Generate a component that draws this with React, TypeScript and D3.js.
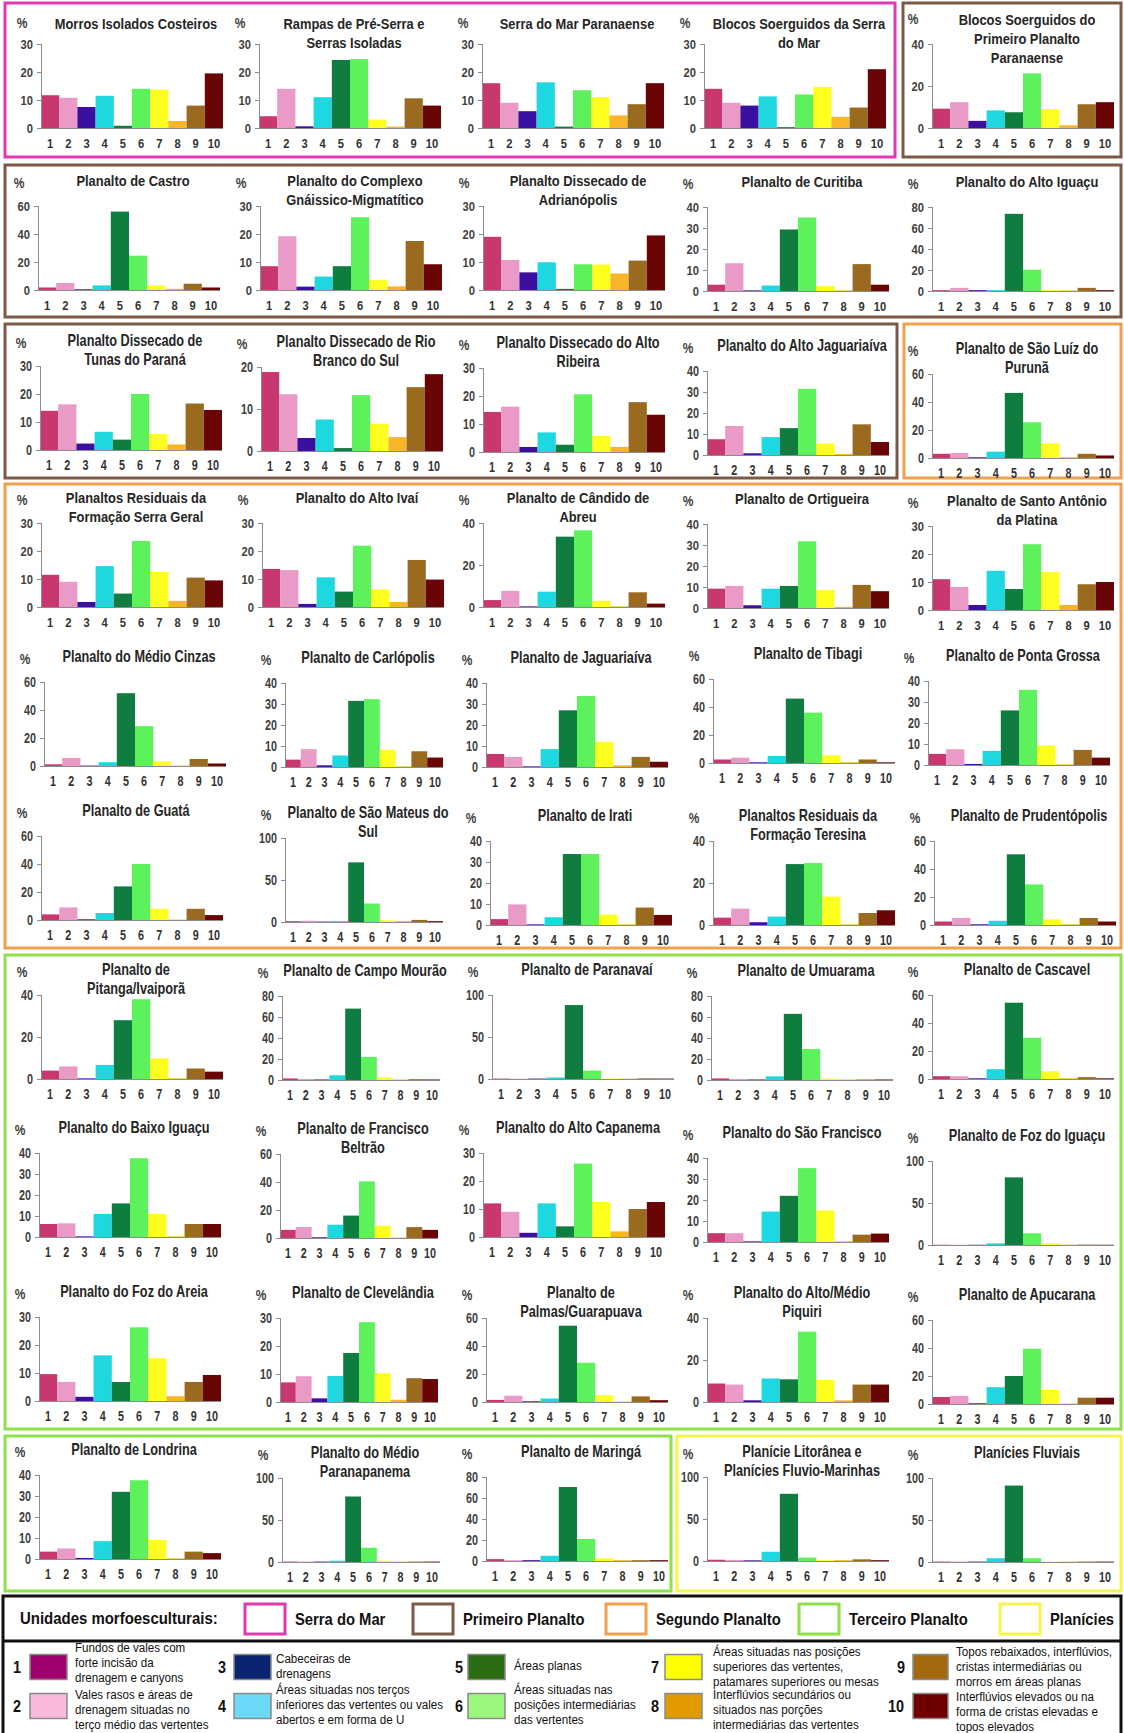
import * as d3 from 'd3';
import type { ReactNode } from 'react';

const categories = ['1', '2', '3', '4', '5', '6', '7', '8', '9', '10'];
const barColors = ['#c9376f', '#e99ac6', '#3b0fa0', '#1ed7df', '#0f7d40', '#5df25c', '#ffff1f', '#f7b52a', '#9a6a1f', '#6a0505'];

const titles: string[][] = [
  ['Morros Isolados Costeiros'], ['Rampas de Pré-Serra e', 'Serras Isoladas'], ['Serra do Mar Paranaense'],
  ['Blocos Soerguidos da Serra', 'do Mar'], ['Blocos Soerguidos do', 'Primeiro Planalto', 'Paranaense'],
  ['Planalto de Castro'], ['Planalto do Complexo', 'Gnáissico-Migmatítico'], ['Planalto Dissecado de', 'Adrianópolis'],
  ['Planalto de Curitiba'], ['Planalto do Alto Iguaçu'],
  ['Planalto Dissecado de', 'Tunas do Paraná'], ['Planalto Dissecado de Rio', 'Branco do Sul'],
  ['Planalto Dissecado do Alto', 'Ribeira'], ['Planalto do Alto Jaguariaíva'], ['Planalto de São Luíz do', 'Purunã'],
  ['Planaltos Residuais da', 'Formação Serra Geral'], ['Planalto do Alto Ivaí'], ['Planalto de Cândido de', 'Abreu'],
  ['Planalto de Ortigueira'], ['Planalto de Santo Antônio', 'da Platina'],
  ['Planalto do Médio Cinzas'], ['Planalto de Carlópolis'], ['Planalto de Jaguariaíva'], ['Planalto de Tibagi'],
  ['Planalto de Ponta Grossa'],
  ['Planalto de Guatá'], ['Planalto de São Mateus do', 'Sul'], ['Planalto de Irati'],
  ['Planaltos Residuais da', 'Formação Teresina'], ['Planalto de Prudentópolis'],
  ['Planalto de', 'Pitanga/Ivaiporã'], ['Planalto de Campo Mourão'], ['Planalto de Paranavaí'],
  ['Planalto de Umuarama'], ['Planalto de Cascavel'],
  ['Planalto do Baixo Iguaçu'], ['Planalto de Francisco', 'Beltrão'], ['Planalto do Alto Capanema'],
  ['Planalto do São Francisco'], ['Planalto de Foz do Iguaçu'],
  ['Planalto do Foz do Areia'], ['Planalto de Clevelândia'], ['Planalto de', 'Palmas/Guarapuava'],
  ['Planalto do Alto/Médio', 'Piquiri'], ['Planalto de Apucarana'],
  ['Planalto de Londrina'], ['Planalto do Médio', 'Paranapanema'], ['Planalto de Maringá'],
  ['Planície Litorânea e', 'Planícies Fluvio-Marinhas'], ['Planícies Fluviais'],
];

const values: number[][] = [
  [11.7, 10.8, 7.5, 11.5, 0.8, 14, 13.7, 2.5, 8, 19.5],
  [4.2, 14, 0.6, 11, 24.3, 24.6, 3, 0.5, 10.6, 8],
  [16, 9, 6, 16.3, 0.5, 13.5, 11, 4.5, 8.5, 16],
  [14, 9, 8, 11.3, 0.3, 12, 14.7, 4, 7.3, 21],
  [9.2, 12.3, 3.4, 8.4, 7.5, 26, 9, 1.3, 11.3, 12.3],
  [1.8, 5, 0.5, 3.3, 56, 24.5, 3.3, 0.8, 4.5, 1.8],
  [8.5, 19.2, 1.2, 4.8, 8.5, 26, 3.6, 1.3, 17.5, 9.2],
  [19, 10.7, 6.3, 9.9, 0.4, 9.2, 9.1, 5.9, 10.5, 19.5],
  [3, 13.2, 0.3, 2.6, 29.3, 35, 2.3, 0.3, 12.8, 3],
  [0.8, 3, 0.8, 0.8, 73.5, 20.3, 0.8, 0.5, 3, 0.8],
  [14, 16.3, 2.3, 6.5, 3.7, 20, 5.7, 2, 16.6, 14.3],
  [18.8, 13.5, 3.1, 7.5, 0.7, 13.3, 6.5, 3.3, 15.2, 18.3],
  [14.3, 16.2, 1.8, 7, 2.6, 20.6, 5.8, 1.8, 17.8, 13.3],
  [7.5, 13.8, 0.8, 8.5, 12.8, 31.5, 5.5, 0.5, 14.6, 6.2],
  [3, 3.6, 0.5, 4.5, 46.5, 25.5, 10.5, 0.5, 3, 1.8],
  [11.5, 9, 1.8, 14.6, 4.8, 23.6, 12.5, 2.2, 10.5, 9.5],
  [13.6, 13.2, 1.1, 10.6, 5.5, 21.9, 6.3, 1.8, 16.8, 9.8],
  [3.3, 7.7, 0.3, 7.3, 33.5, 36.5, 3, 0.3, 7, 1.6],
  [9.2, 10.5, 1.3, 9.2, 10.5, 31.8, 8.5, 0.5, 11, 8],
  [11, 8.2, 1.8, 14, 7.5, 23.5, 13.5, 1.8, 9.2, 10],
  [1.2, 5.8, 0.3, 2.7, 52, 28.5, 3.3, 0.3, 5, 1.8],
  [3.5, 8.5, 0.8, 5.5, 31.5, 32.3, 8.2, 0.3, 7.5, 4.5],
  [6.2, 4.8, 0.3, 8.5, 27, 33.8, 12, 0.8, 4.8, 2.5],
  [2.5, 3.8, 0.5, 5, 46, 36, 5.5, 0.5, 2.5, 0.5],
  [5.3, 7.5, 0.5, 6.7, 26, 35.8, 9.3, 0.3, 7.2, 3.5],
  [4, 9, 0.5, 5, 24, 40, 8, 0.3, 8, 3.5],
  [1, 1.5, 0.5, 1, 71, 22, 2, 1, 2.5, 1],
  [2.8, 9.8, 0.3, 3.7, 33.8, 33.8, 5, 0.3, 8.3, 4.8],
  [3.5, 7.8, 1.3, 4, 29, 29.5, 13.5, 0.3, 5.7, 7],
  [2.5, 5, 0.5, 3, 50.5, 29, 4, 0.5, 5, 2.5],
  [4, 6, 0.3, 6.7, 28, 38, 9.8, 0.3, 5, 3.5],
  [1.5, 1, 0.5, 4.5, 68, 22, 2.5, 0.5, 0.8, 0.5],
  [0.5, 0.3, 0.5, 1.8, 88, 10, 0.5, 0.5, 0.8, 0.5],
  [1.5, 1, 0.5, 3.5, 63, 29.5, 1.2, 0.5, 0.5, 0.5],
  [2, 2, 0.5, 7, 54.5, 29.5, 5.5, 0.5, 1.3, 0.5],
  [6.2, 6.5, 0.3, 11, 16, 37.5, 11, 0.3, 6.2, 6.2],
  [5.8, 7.8, 0.5, 9.5, 16, 40.5, 8.8, 0.3, 7.8, 5.8],
  [12, 9, 1.5, 12, 3.8, 26.2, 12.5, 2, 10, 12.5],
  [4.2, 4.2, 0.3, 14.5, 22, 35.2, 15, 0.3, 3.5, 4],
  [0.3, 0.3, 0.3, 2, 80.5, 14, 2, 0.5, 0.5, 0.3],
  [9.6, 6.8, 1.5, 16.3, 6.8, 26.3, 15.3, 1.7, 6.8, 9.3],
  [7, 9.2, 1.3, 9.3, 17.5, 28.5, 10.3, 0.8, 8.5, 8.2],
  [1.5, 4.5, 0.5, 2.5, 54.5, 28, 4.8, 0.3, 4, 1.3],
  [8.8, 8.3, 0.8, 11.2, 10.8, 33.5, 10.5, 0.8, 8.3, 8.3],
  [5, 5.8, 0.5, 12, 20, 39.5, 10, 0.3, 4.5, 4.5],
  [3.5, 5, 0.5, 8.5, 32, 37.5, 9, 0.3, 3.5, 2.8],
  [0.5, 0.5, 0.5, 1.5, 78, 17, 1.5, 0.5, 0.5, 0.5],
  [1.8, 0.8, 0.8, 5, 70.5, 21, 2.5, 0.8, 0.8, 0.8],
  [1.5, 1.3, 0.8, 11, 80, 4, 1, 1, 2, 1],
  [0.5, 0.5, 0.5, 4.5, 91, 4.5, 0.5, 0.5, 0.5, 0.5],
];

const yMax = [
  30, 30, 30, 30, 40, 60, 30, 30, 40, 80,
  30, 20, 30, 40, 60, 30, 30, 40, 40, 30,
  60, 40, 40, 60, 40, 60, 100, 40, 40, 60,
  40, 80, 100, 80, 60, 40, 60, 30, 40, 100,
  30, 30, 60, 40, 60, 40, 100, 80, 100, 100,
];
const yStep = [
  10, 10, 10, 10, 20, 20, 10, 10, 10, 20,
  10, 10, 10, 10, 20, 10, 10, 20, 10, 10,
  20, 10, 10, 20, 10, 20, 50, 10, 20, 20,
  20, 20, 50, 20, 20, 10, 20, 10, 10, 50,
  10, 10, 20, 20, 20, 10, 50, 20, 50, 50,
];

const unitNames = ['Serra do Mar', 'Primeiro Planalto', 'Segundo Planalto', 'Terceiro Planalto', 'Planícies'];
const unitColors = ['#dd3bb0', '#7b5b47', '#f0a04e', '#8fe04a', '#f6f54a'];

const legendColors = ['#a0006e', '#f9b9dc', '#0b2470', '#6cd9f7', '#2a6d12', '#9cf77e', '#ffff00', '#e19a00', '#a4690f', '#6e0000'];
const legendTexts: string[][] = [
  ['Fundos de vales com', 'forte incisão da', 'drenagem e canyons'],
  ['Vales rasos e áreas de', 'drenagem situadas no', 'terço médio das vertentes'],
  ['Cabeceiras de', 'drenagens'],
  ['Áreas situadas nos terços', 'inferiores das vertentes ou vales', 'abertos e em forma de U'],
  ['Áreas planas'],
  ['Áreas situadas nas', 'posições intermediárias', 'das vertentes'],
  ['Áreas situadas nas posições', 'superiores das vertentes,', 'patamares superiores ou mesas'],
  ['Interflúvios secundários ou', 'situados nas porções', 'intermediárias das vertentes'],
  ['Topos rebaixados, interflúvios,', 'cristas intermediárias ou', 'morros em áreas planas'],
  ['Interflúvios elevados ou na', 'forma de cristas elevadas e', 'topos elevados'],
];

// layout
const rowTop = [44, 206, 366, 523, 682, 838, 995, 1153, 1317, 1477];
const rowNudge = [
  [0, 0, 0, 0, 0], [0, 0, 0, 1, 1], [0, 1, 2, 5, 8], [0, 0, 0, 1, 3], [0, 1, 1, -3, -1],
  [-2, 0, 3, 3, 3], [0, 1, 0, 1, 0], [0, 1, 0, 5, 8], [0, 1, 1, 1, 3], [-2, 1, 0, 0, 1],
];
const colX = [
  [41, 259, 482, 704, 932], [38, 260, 483, 707, 932], [40, 261, 483, 707, 932],
  [41, 262, 483, 707, 932], [44, 285, 486, 713, 928], [41, 285, 490, 713, 934],
  [41, 282, 492, 711, 932], [39, 280, 483, 707, 932], [39, 280, 486, 707, 932],
  [39, 282, 486, 707, 932],
];
const plotH = 84;
const boxes = [
  { x: 5, y: 3, w: 890, h: 154, u: 0 },
  { x: 903, y: 3, w: 218, h: 154, u: 1 },
  { x: 5, y: 165, w: 1116, h: 152, u: 1 },
  { x: 5, y: 324, w: 892, h: 154, u: 1 },
  { x: 904, y: 324, w: 217, h: 154, u: 2 },
  { x: 5, y: 484, w: 1116, h: 464, u: 2 },
  { x: 5, y: 955, w: 1116, h: 474, u: 3 },
  { x: 5, y: 1436, w: 666, h: 155, u: 3 },
  { x: 677, y: 1436, w: 444, h: 155, u: 4 },
];

const SANS = "'Liberation Sans', Arial, sans-serif";

// text squeezed horizontally (Calibri / Arial Narrow look)
const T = ({ x, y, sx, size, anchor = 'start', bold = false, fill = '#222', children }: {
  x: number; y: number; sx: number; size: number; anchor?: string; bold?: boolean; fill?: string; children: ReactNode;
}) => (
  <text transform={`translate(${x},${y}) scale(${sx},1)`} textAnchor={anchor} fontSize={size}
    fontWeight={bold ? 'bold' : 'normal'} fontFamily={SANS} fill={fill}>{children}</text>
);

const Panel = ({ i }: { i: number }) => {
  const r = Math.floor(i / 5);
  const c = i % 5;
  const x0 = colX[r][c];
  const w = r >= 4 && c === 1 ? 158 : 182;
  const top = rowTop[r] + rowNudge[r][c];
  const narrow = r === 2 || r >= 4;
  const sx = narrow ? 0.77 : 0.86;
  const titleSize = narrow ? 16.5 : 15;
  const tickSize = narrow ? 14 : 13;

  const x = d3.scaleBand<string>().domain(categories).range([x0, x0 + w]).padding(0);
  const y = d3.scaleLinear().domain([0, yMax[i]]).range([top + plotH, top]);
  const ticks = d3.range(0, yMax[i] + yStep[i] / 2, yStep[i]);
  const lines = titles[i];
  const first = lines.length === 3 ? top - 19 : r === 0 ? top - 15 : top - 20;
  const gap = lines.length === 3 ? 19 : 18.5;
  const cx = x0 + w / 2 + 4;

  return (
    <g>
      <T x={x0 - 19} y={r === 0 ? first - 1 : first + 2} sx={sx} anchor="middle" size={titleSize - 1} bold fill="#404040">%</T>
      {lines.map((t, k) => (
        <T key={k} x={cx} y={first + k * gap} sx={sx} anchor="middle" size={titleSize} bold fill="#262626">{t}</T>
      ))}
      {categories.map((cat, k) => (
        <rect key={cat} x={x(cat)} y={y(values[i][k])} width={x.bandwidth()} height={y(0) - y(values[i][k])} fill={barColors[k]} />
      ))}
      <line x1={x0} x2={x0 + w} y1={y(0) + 0.5} y2={y(0) + 0.5} stroke="#8c8c8c" strokeWidth={1} />
      <line x1={x0 + 0.5} x2={x0 + 0.5} y1={top} y2={y(0)} stroke="#8c8c8c" strokeWidth={1} />
      {ticks.map((t) => (
        <g key={t}>
          <line x1={x0 - 4} x2={x0} y1={y(t) + 0.5} y2={y(t) + 0.5} stroke="#8c8c8c" />
          <T x={x0 - 8} y={y(t) + 4.5} sx={sx} anchor="end" size={tickSize} bold fill="#404040">{t}</T>
        </g>
      ))}
      {categories.map((cat) => (
        <T key={cat} x={(x(cat) as number) + x.bandwidth() / 2} y={y(0) + 20} sx={sx} anchor="middle" size={tickSize} bold fill="#333">{cat}</T>
      ))}
    </g>
  );
};

const topSwatchX = [245, 413, 606, 799, 1000];
const itemCols = [
  { num: 17, sw: 30, tx: 75 },
  { num: 222, sw: 234, tx: 276 },
  { num: 459, sw: 468, tx: 514 },
  { num: 655, sw: 665, tx: 713 },
  { num: 901, sw: 913, tx: 956 },
];
// first text baseline of each legend item
const itemTextY = [1652, 1699, 1663, 1694, 1670, 1694, 1656, 1699, 1656, 1701];

const LegendItem = ({ k }: { k: number }) => {
  const col = itemCols[Math.floor(k / 2)];
  const lower = k % 2 === 1;
  const cy = lower ? 1706 : 1667;
  const lines = legendTexts[k];
  return (
    <g>
      <T x={k === 9 ? col.num - 5 : col.num} y={cy + 6} sx={0.85} anchor="middle" size={17} bold fill="#111">{categories[k]}</T>
      <rect x={col.sw} y={cy - 12.5} width={col.sw === 913 ? 35 : 37} height={25} fill={legendColors[k]} stroke="#8a8a8a" strokeWidth={1.5} />
      {lines.map((t, j) => (
        <T key={j} x={col.tx} y={itemTextY[k] + j * 15.2} sx={0.86} size={13.5} fill="#111">{t}</T>
      ))}
    </g>
  );
};

const App = () => {
  return (
    <svg width={1124} height={1733} style={{ position: 'absolute', left: 0, top: 0, background: '#fff' }}>
      <rect x={0} y={0} width={1124} height={1733} fill="#fff" />
      {boxes.map((b, k) => (
        <rect key={k} x={b.x} y={b.y} width={b.w} height={b.h} fill="none" stroke={unitColors[b.u]} strokeWidth={3} />
      ))}
      {values.map((_, i) => (
        <Panel key={i} i={i} />
      ))}
      <rect x={3} y={1596} width={1118} height={140} fill="none" stroke="#111" strokeWidth={3} />
      <line x1={3} x2={1121} y1={1641} y2={1641} stroke="#111" strokeWidth={3} />
      <T x={20} y={1624} sx={0.88} size={17} bold fill="#111">Unidades morfoesculturais:</T>
      {unitNames.map((n, k) => (
        <g key={n}>
          <rect x={topSwatchX[k]} y={1604} width={40} height={30} fill="#fff" stroke={unitColors[k]} strokeWidth={3} />
          <T x={topSwatchX[k] + 50} y={1625} sx={0.87} size={17} bold fill="#111">{n}</T>
        </g>
      ))}
      {legendColors.map((_, k) => (
        <LegendItem key={k} k={k} />
      ))}
    </svg>
  );
};

export default App;
